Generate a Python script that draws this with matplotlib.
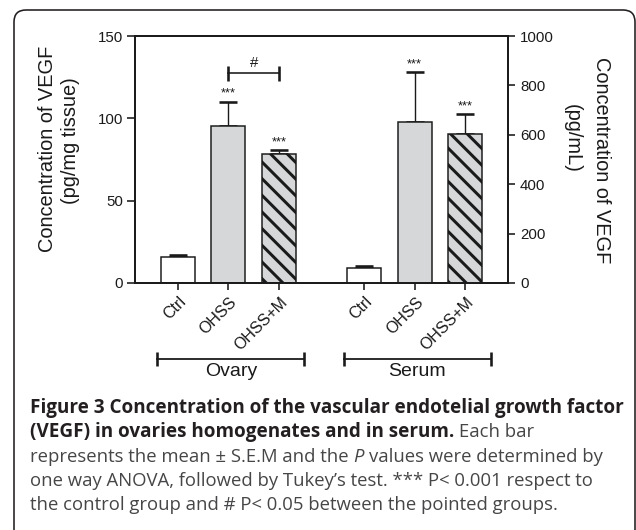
import matplotlib
matplotlib.use("Agg")
import matplotlib.pyplot as plt
import matplotlib.transforms as mtransforms
from matplotlib.patches import FancyBboxPatch
import numpy as np

# values
groups = ["Ovary", "Serum"]
treatments = ["Ctrl", "OHSS", "OHSS+M"]
ovary_mean = [16.0, 95.2, 78.1]      # pg/mg tissue
ovary_sem = [1.2, 15.0, 2.5]
serum_mean = [62, 651, 605]          # pg/mL
serum_sem = [5, 202, 79]
stars = ["", "***", "***"]
ovary_ticks = [0, 50, 100, 150]
serum_ticks = [0, 200, 400, 600, 800, 1000]

caption = [
    [("Figure 3 Concentration of the vascular endotelial growth factor", "bold")],
    [("(VEGF) in ovaries homogenates and in serum.", "bold"), ("Each bar", "normal")],
    [("represents the mean \u00b1 S.E.M and the", "normal"), ("P", "italic"),
     ("values were determined by", "normal")],
    [("one way ANOVA, followed by Tukey\u2019s test. *** P< 0.001 respect to", "normal")],
    [("the control group and # P< 0.05 between the pointed groups.", "normal")],
]

W, H, DPI = 636, 530, 100


def px(v):
    # pixel size -> points
    return v * 72 / DPI


plt.rcParams["font.family"] = ["Liberation Sans", "DejaVu Sans"]
plt.rcParams["hatch.linewidth"] = px(3.0)

INK = "#1a1a1a"
fig = plt.figure(figsize=(W / DPI, H / DPI), dpi=DPI)

# pixel-space layer for the frame, labels and caption
bg = fig.add_axes([0, 0, 1, 1], zorder=-1)
bg.set_xlim(0, W)
bg.set_ylim(H, 0)
bg.axis("off")
bg.add_patch(FancyBboxPatch((14, 10), 621, 560, boxstyle="round,pad=0,rounding_size=12",
                            fc="white", ec="#231f20", lw=px(1.6)))

ax = fig.add_axes([135 / W, 1 - 283 / H, 373 / W, 247 / H])
ax2 = ax.twinx()

x_ov = np.arange(3)
x_se = x_ov + 3.68
width = 0.67
fills = ["white", "#d5d7d9", "#d5d7d9"]
hatches = ["", "", "\\\\"]


def draw_group(a, xs, means, sems):
    a.bar(xs, means, width, color=fills, edgecolor=INK, linewidth=px(1.5), hatch=hatches, zorder=2)
    a.errorbar(xs, means, yerr=[np.zeros(len(xs)), sems], fmt="none", ecolor=INK,
               elinewidth=px(1.4), capsize=px(9), capthick=px(2.6), zorder=1)
    for xi, m, s, lab in zip(xs, means, sems, stars):
        if lab:
            a.annotate(lab, (xi, m + s), xytext=(0, px(8)), textcoords="offset points",
                       ha="center", va="center", fontsize=px(13), color=INK)


draw_group(ax, x_ov, ovary_mean, ovary_sem)
draw_group(ax2, x_se, serum_mean, serum_sem)

ax.set_xlim(-0.843, 6.52)
ax.set_ylim(0, 150)
ax2.set_ylim(0, 1000)
ax.set_yticks(ovary_ticks)
ax2.set_yticks(serum_ticks)
for a in (ax, ax2):
    for sp in a.spines.values():
        sp.set_linewidth(px(1.8))
        sp.set_color(INK)
ax.tick_params(axis="y", direction="out", length=px(8), width=px(1.6), labelsize=px(15),
               pad=px(4), colors=INK)
ax2.tick_params(axis="y", direction="out", length=px(7), width=px(1.6), labelsize=px(15),
                pad=px(5), colors=INK)
ax.tick_params(axis="x", direction="out", length=px(7), width=px(1.6), pad=px(9.5), colors=INK)

ax.set_xticks(np.concatenate([x_ov, x_se]))
ax.set_xticklabels(treatments * 2, rotation=45, ha="right", va="center",
                   rotation_mode="anchor", fontsize=px(16))
shift = mtransforms.ScaledTranslation(6 / DPI, 0, fig.dpi_scale_trans)
for lab in ax.get_xticklabels():
    lab.set_transform(lab.get_transform() + shift)

# "#" comparison bracket between OHSS and OHSS+M (ovary)
yb = 127.3
ax.plot([x_ov[1], x_ov[2]], [yb, yb], color=INK, lw=px(1.6))
ax.plot([x_ov[1], x_ov[2]], [yb, yb], ls="none", marker="|", ms=px(15), mew=px(2.6), color=INK)
ax.annotate("#", ((x_ov[1] + x_ov[2]) / 2, yb), xytext=(0, px(10)), textcoords="offset points",
            ha="center", va="center", fontsize=px(15), color=INK)

# group brackets below the tick labels
tr = mtransforms.blended_transform_factory(ax.transData, bg.transData)
for name, xs in zip(groups, [x_ov, x_se]):
    x0, x1 = xs[0] - 0.4, xs[-1] + 0.5
    bg.plot([x0, x1], [359, 359], color=INK, lw=px(1.8), transform=tr, clip_on=False)
    bg.plot([x0, x1], [359, 359], ls="none", marker="|", ms=px(14), mew=px(2.6), color=INK,
            transform=tr, clip_on=False)
    bg.text((x0 + x1) / 2, 371, name, ha="center", va="center", fontsize=px(19.5),
            color=INK, transform=tr)

# axis titles
bg.text(48, 149, "Concentration of VEGF", rotation=90, ha="center", va="center",
        fontsize=px(20), color=INK)
bg.text(71, 141, "(pg/mg tissue)", rotation=90, ha="center", va="center",
        fontsize=px(20), color=INK)
bg.text(601, 160, "Concentration of VEGF", rotation=270, ha="center", va="center",
        fontsize=px(20), color=INK)
bg.text(572, 138, "(pg/mL)", rotation=270, ha="center", va="center",
        fontsize=px(20), color=INK)

# caption, sized so the first (bold) and fourth lines span the measured widths
renderer = fig.canvas.get_renderer()
cap_font = ["Open Sans", "DejaVu Sans"]
styles = {
    "bold": dict(fontweight="bold", color="#231f20"),
    "normal": dict(color="#464648"),
    "italic": dict(fontstyle="italic", color="#464648"),
}


def measure(s, fs, kind):
    t = bg.text(0, 0, s, fontsize=fs, family=cap_font, **styles[kind])
    w = t.get_window_extent(renderer).width
    t.remove()
    return w


fs_bold = 10 * 597 / measure(caption[0][0][0], 10, "bold")
fs_norm = 10 * 564 / measure(caption[3][0][0], 10, "normal")
baselines = [413, 437, 462, 486, 510]
for y, pieces in zip(baselines, caption):
    x = 30
    for s, kind in pieces:
        fs = fs_bold if kind == "bold" else fs_norm
        t = bg.text(x, y, s, fontsize=fs, family=cap_font, va="baseline", **styles[kind])
        # word gap of about a quarter em, in pixels
        x += t.get_window_extent(renderer).width + 0.27 * fs * DPI / 72

fig.savefig("out.png", dpi=DPI)
